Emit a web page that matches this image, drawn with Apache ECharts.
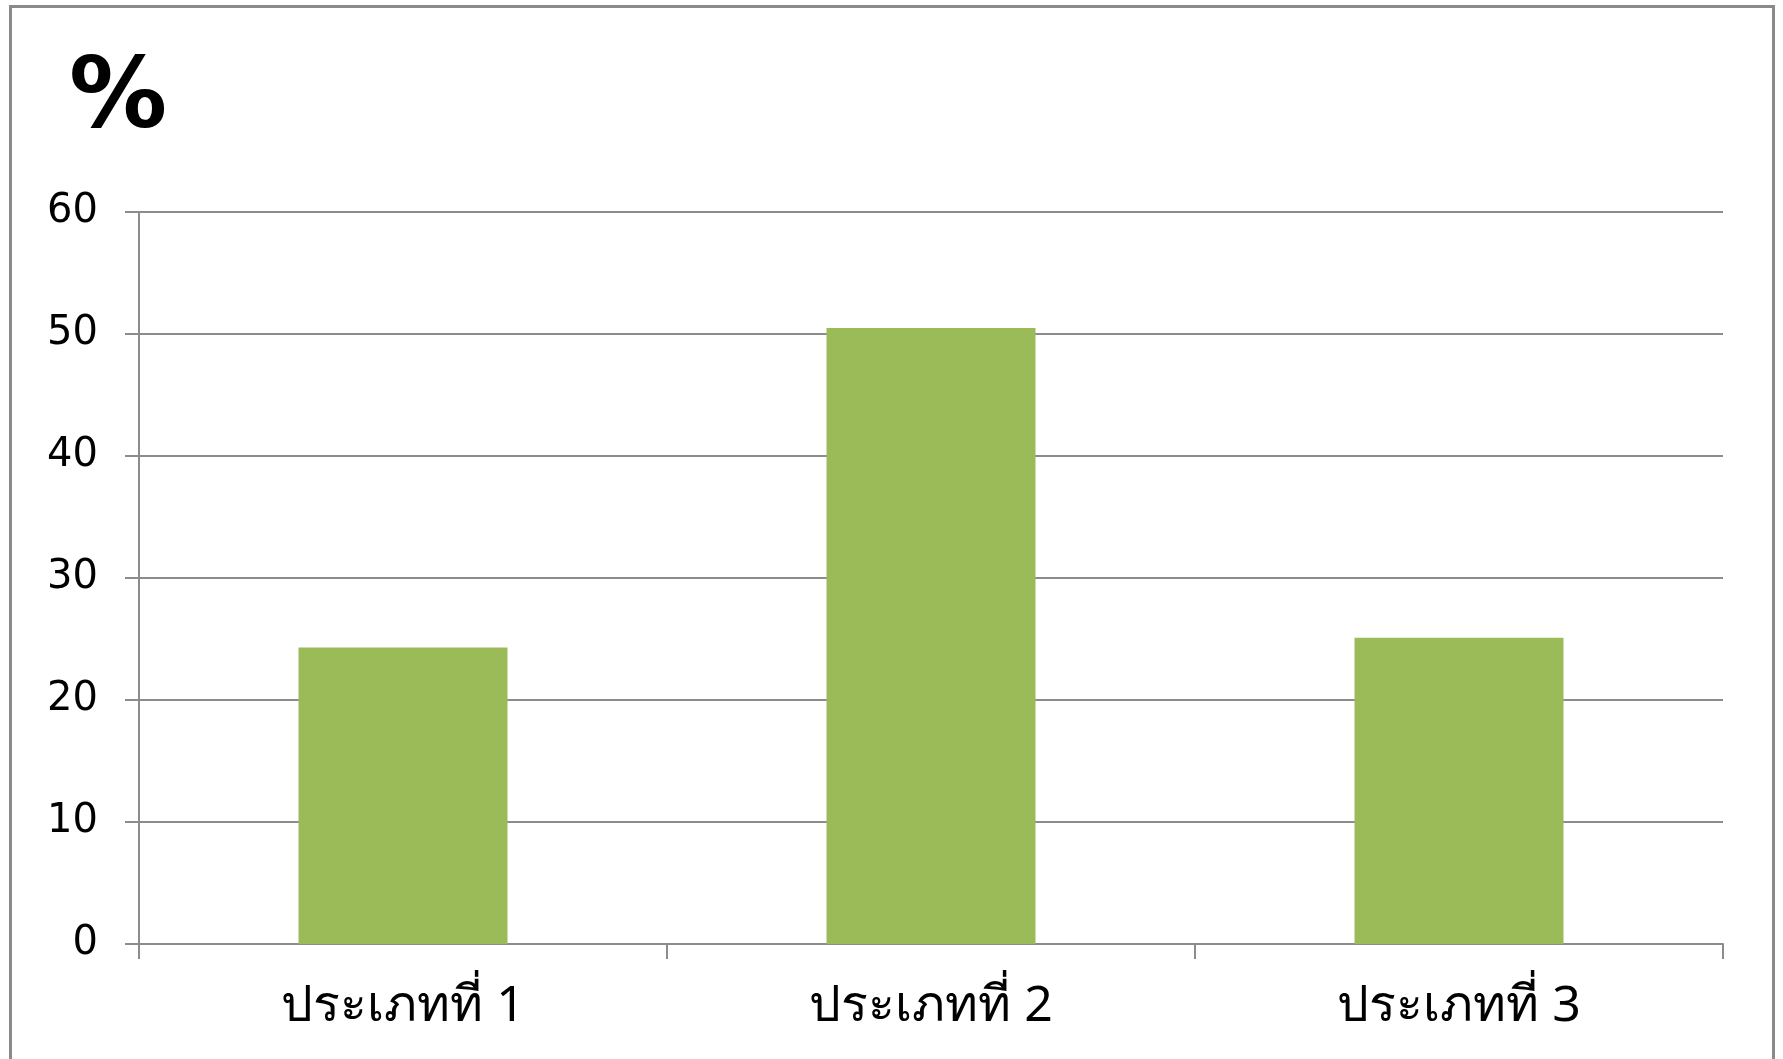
<!DOCTYPE html>
<html>
<head>
<meta charset="utf-8">
<script src="https://cdn.jsdelivr.net/npm/echarts@6/dist/echarts.min.js"></script>
<style>
html,body{margin:0;padding:0;background:#fff;}
#c{width:1783px;height:1059px;}
</style>
</head>
<body>
<div id="c"></div>
<script>
const categories = ['ประเภทที่ 1', 'ประเภทที่ 2', 'ประเภทที่ 3'];
const values = [24.3, 50.5, 25.1];
const yTicks = [0, 10, 20, 30, 40, 50, 60];
const titleText = '%';

const chart = echarts.init(document.getElementById('c'), null, {renderer: 'canvas'});
chart.setOption({
  animation: false,
  backgroundColor: '#fff',
  title: {
    text: titleText,
    left: 64,
    top: 48,
    textStyle: {fontFamily: 'DejaVu Sans', fontWeight: 'bold', fontSize: 98, color: '#000'}
  },
  graphic: [{
    type: 'rect',
    shape: {x: 10.5, y: 6.5, width: 1763, height: 1100},
    style: {fill: 'none', stroke: '#8a8a8a', lineWidth: 3},
    silent: true
  }],
  grid: {left: 139, right: 60, top: 212, bottom: 115, containLabel: false},
  xAxis: {
    type: 'category',
    data: categories,
    axisLine: {lineStyle: {color: '#8c8c8c', width: 2}},
    axisTick: {show: true, length: 15, lineStyle: {color: '#8c8c8c', width: 2}},
    axisLabel: {margin: 38, fontSize: 50, color: '#000', fontFamily: 'Tahoma, "Noto Sans", "DejaVu Sans", sans-serif'}
  },
  yAxis: {
    type: 'value',
    min: yTicks[0],
    max: yTicks[yTicks.length - 1],
    interval: 10,
    axisLine: {show: true, lineStyle: {color: '#8c8c8c', width: 2}},
    axisTick: {show: true, length: 14, lineStyle: {color: '#8c8c8c', width: 2}},
    splitLine: {lineStyle: {color: '#8c8c8c', width: 2}},
    axisLabel: {margin: 41, fontSize: 40, color: '#000', fontFamily: 'DejaVu Sans'}
  },
  series: [{
    type: 'bar',
    data: values,
    barWidth: 209,
    itemStyle: {color: '#9BBB59'}
  }]
});
</script>
</body>
</html>
